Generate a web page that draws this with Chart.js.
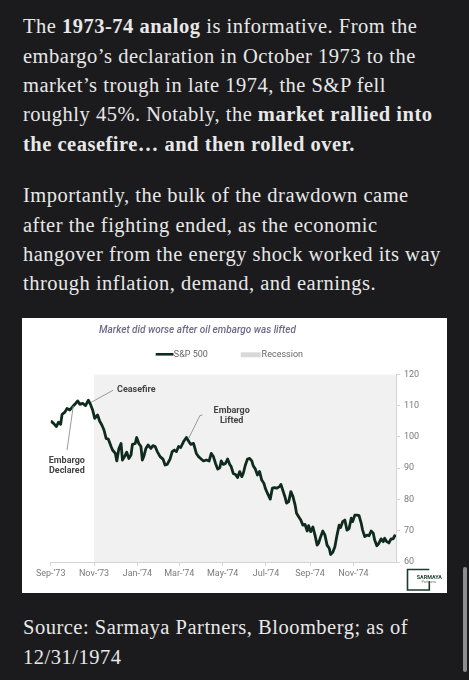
<!DOCTYPE html>
<html>
<head>
<meta charset="utf-8">
<script src="https://cdn.jsdelivr.net/npm/chart.js@4.4.1/dist/chart.umd.min.js"></script>
<style>
  html, body { margin:0; padding:0; }
  body { width:469px; height:680px; background:#1b1b1d; position:relative; overflow:hidden;
         font-family:"Liberation Serif", serif; color:#e8e8e8; }
  .para { position:absolute; left:23px; font-size:20.5px; letter-spacing:0.5px; line-height:29.4px; white-space:nowrap; }
  .para b { font-weight:bold; }
  #box { position:absolute; left:22px; top:318px; width:425px; height:275px; background:#ffffff; }
  #scroll { position:absolute; left:463px; top:567px; width:3.5px; height:105px; border-radius:2px; background:#8e8e8e; }
</style>
</head>
<body>
<div class="para" style="top:12.2px">The <b>1973-74 analog</b> is informative. From the<br>embargo’s declaration in October 1973 to the<br>market’s trough in late 1974, the S&amp;P fell<br>roughly 45%. Notably, the <b>market rallied into</b><br><b>the ceasefire… and then rolled over.</b></div>
<div class="para" style="top:181.2px">Importantly, the bulk of the drawdown came<br>after the fighting ended, as the economic<br>hangover from the energy shock worked its way<br>through inflation, demand, and earnings.</div>
<div id="box"><canvas id="c"></canvas></div>
<div class="para" style="top:613.2px">Source: Sarmaya Partners, Bloomberg; as of<br>12/31/1974</div>
<div id="scroll"></div>
<script>
// ---- data (days since 1 Sep 1973) ----
const days = [0,4,8,11,14,16,20,23,27,31,
  34,38,41,45,49,53,56,59,62,66,
  69,72,75,78,81,85,87,91,93,96,
  99,101,104,107,110,113,115,119,121,124,
  127,129,131,134,137,141,144,147,150,154,
  158,161,164,168,171,174,177,180,183,187,
  191,194,197,201,205,208,211,215,219,223,
  226,229,232,235,238,240,243,246,249,252,
  254,257,260,263,266,269,271,274,277,280,
  283,285,288,291,294,297,300,302,305,309,
  312,315,318,322,324,327,330,332,335,338,
  341,344,346,349,352,355,358,361,363,366,
  369,372,375,377,380,383,386,389,392,394,
  397,400,403,406,408,411,414,417,420,423,
  425,428,431,434,437,439,442,445,448,451,
  454,456,459,462,465,468,470,473,476,479,
  482,484,486];
const spx = [105.1,104.3,103.3,104.7,104,107.2,107.9,109.1,108.6,109.7,
  110.4,111.5,110.4,110.7,110,111.7,110.4,108.6,105.9,107,
  105,103.8,102.2,99.5,99.3,96.9,95.8,94.7,92.3,96.3,
  97.9,92.6,93.7,95.1,93.1,94.2,97.6,97.9,99.8,97.9,
  96.9,92.6,93.7,96.3,97.4,96.3,97.2,96.9,95.3,93.7,
  92.9,91,91.2,92.9,95.3,95.8,95.3,96.9,96.6,98.5,
  99.8,98.7,97.6,97.9,94.7,93.7,93.1,92.3,92.6,92.3,
  94.7,93.7,91.5,89.7,90.1,92.3,91.2,91.5,92.9,91.2,
  90.5,88.3,88,87,88.9,87.3,88.3,91,92.9,93.1,
  92.3,90.8,89.7,87.8,88.9,86.2,85.2,83.6,82,80.1,
  83.6,83.8,83.6,84.1,84.8,82.7,80.6,78.8,79.3,82.5,
  80.9,78.2,75.6,74.5,73.4,71.8,72,69.9,71.6,69.7,
  71.2,68.6,65.4,66,68.1,69.9,68.6,65.4,64.4,62.4,
  63.1,64.9,68.6,71.8,71,72.9,73.4,70.2,70.7,74,
  72.9,75,75,74.8,72.4,70.2,68.1,68.6,68.4,69.9,
  69.2,67,65.2,66,67.4,66.5,67.6,66.5,66.1,67.4,
  67.4,68.4,68.1];
const recessionDays = [61, 486];          // Nov 1973 onward (to end of chart)
const xTickDays = [0,61,122,181,242,303,365,426];
const xTickLabels = ["Sep-’73","Nov-’73","Jan-’74","Mar-’74","May-’74","Jul-’74","Sep-’74","Nov-’74"];
const yMin = 60, yMax = 120, yStep = 10;
const chartTitle = "Market did worse after oil embargo was lifted";
const seriesName = "S&P 500", recessionName = "Recession";
// annotations in data coordinates: label lines + leader polyline
const annotations = [
  { lines:["Ceasefire"], at:[93.3,115.0], align:"left", leader:[[56.7,111.0],[87.7,114.9]] },
  { lines:["Embargo","Declared"], at:[22.7,92.5], align:"center", leader:[[23,95.8],[31.8,109.9]] },
  { lines:["Embargo","Lifted"], at:[254.7,108.4], align:"center", leader:[[194.4,99.6],[210,106.8],[213.6,107]] }
];

const LINE = '#0f2b1e';
const overlay = {
  id:'overlay',
  afterDraw(chart){
    const ctx = chart.ctx, x = chart.scales.x, y = chart.scales.y;
    ctx.save();
    // title
    ctx.font = 'italic 500 10px Roboto';
    ctx.fillStyle = '#6f6a88';
    ctx.textAlign = 'center'; ctx.textBaseline = 'alphabetic';
    ctx.fillText(chartTitle, 175.5, 14.7);
    // legend
    ctx.strokeStyle = LINE; ctx.lineWidth = 2.6;
    ctx.beginPath(); ctx.moveTo(133.7, 36.3); ctx.lineTo(151.5, 36.3); ctx.stroke();
    ctx.font = '9px Roboto'; ctx.fillStyle = '#666'; ctx.textAlign = 'left'; ctx.textBaseline = 'middle';
    ctx.fillText(seriesName, 151.8, 36.6);
    ctx.fillStyle = '#d9d9d9'; ctx.fillRect(218.7, 34.3, 20, 5);
    ctx.fillStyle = '#666'; ctx.fillText(recessionName, 239.6, 36.6);
    // annotations
    ctx.strokeStyle = '#9a9a9a'; ctx.lineWidth = 1;
    ctx.font = 'bold 9px Roboto'; ctx.fillStyle = '#444';
    annotations.forEach(a => {
      ctx.beginPath();
      a.leader.forEach((p,i) => {
        const px = x.getPixelForValue(p[0]), py = y.getPixelForValue(p[1]);
        if (i===0) ctx.moveTo(px,py); else ctx.lineTo(px,py);
      });
      ctx.stroke();
      ctx.textAlign = a.align; ctx.textBaseline = 'middle';
      const tx = x.getPixelForValue(a.at[0]), ty = y.getPixelForValue(a.at[1]);
      a.lines.forEach((t,i) => ctx.fillText(t, tx, ty + i*10.2));
    });
    ctx.restore();
  }
};

const logo = {
  id:'logo',
  afterDraw(chart){
    const ctx = chart.ctx;
    ctx.save();
    ctx.strokeStyle = '#1c3a2c'; ctx.lineWidth = 1.6;
    ctx.beginPath();
    ctx.moveTo(407.3, 251.5); ctx.lineTo(385.5, 251.5); ctx.lineTo(385.5, 272); ctx.lineTo(407.3, 272); ctx.lineTo(407.3, 263);
    ctx.stroke();
    ctx.fillStyle = '#1c3a2c';
    ctx.font = 'bold 5.4px Roboto'; ctx.textAlign = 'left'; ctx.textBaseline = 'middle';
    ctx.fillText('SARMAYA', 394.8, 259.5);
    ctx.font = '3.8px Roboto'; ctx.fillStyle = '#777';
    ctx.fillText('Partners', 399.5, 264.3);
    ctx.restore();
  }
};

Chart.defaults.font.family = 'Roboto';
Chart.defaults.font.size = 9;
Chart.defaults.color = '#777';

new Chart(document.getElementById('c'), {
  type:'line',
  data:{
    datasets:[
      { label:seriesName, data:days.map((d,i)=>({x:d,y:spx[i]})), borderColor:LINE, borderWidth:2.8,
        pointRadius:0, tension:0, fill:false, borderJoinStyle:'round' },
      { label:recessionName, data:recessionDays.map(d=>({x:d,y:yMax})), borderWidth:0, pointRadius:0,
        backgroundColor:'#f1f1f1', fill:'start' }
    ]
  },
  options:{
    responsive:true, maintainAspectRatio:false, animation:false,
    layout:{ padding:{ left:28.7, right:0, top:56.3, bottom:0 } },
    plugins:{ legend:{display:false}, title:{display:false}, tooltip:{enabled:false} },
    scales:{
      x:{ type:'linear', min:0, max:486,
        afterBuildTicks: s => { s.ticks = xTickDays.map(v=>({value:v})); },
        afterFit: s => { s.height = 31; },
        ticks:{ autoSkip:false, maxRotation:0, padding:2, callback:(v,i)=>xTickLabels[i], color:'#7a7a7a' },
        grid:{ display:true, drawOnChartArea:false, drawTicks:true, tickLength:4, color:'#d4d4d4' },
        border:{ display:true, color:'#d4d4d4' }
      },
      y:{ position:'right', min:yMin, max:yMax,
        afterFit: s => { s.width = 51; },
        ticks:{ stepSize:yStep, padding:4, color:'#7a7a7a' },
        grid:{ display:true, drawOnChartArea:false, drawTicks:true, tickLength:4, color:'#d4d4d4' },
        border:{ display:true, color:'#d4d4d4' }
      }
    }
  },
  plugins:[overlay, logo]
});
</script>
</body>
</html>
